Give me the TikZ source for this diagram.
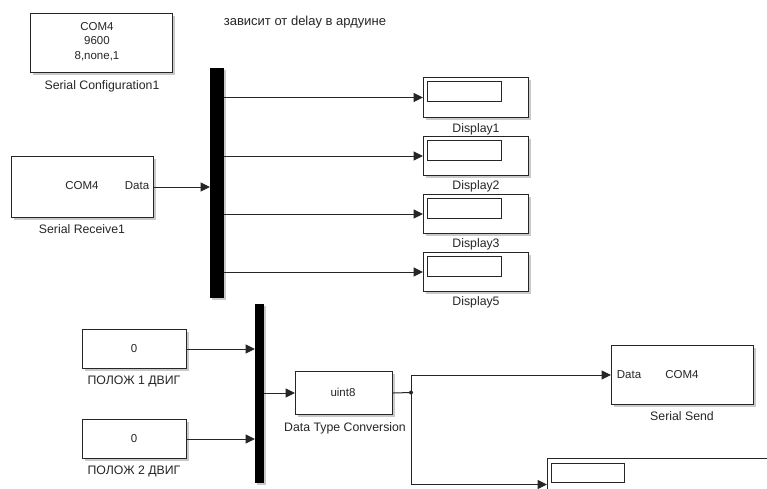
\documentclass[tikz,border=0pt]{standalone}
\usepackage{fontspec}
\setmainfont{Liberation Sans}
\usetikzlibrary{arrows.meta,shadows}
\tikzset{
  blk/.style={draw=black!85, fill=white, line width=1pt, anchor=north west, inner sep=0pt,
    drop shadow={shadow xshift=2pt, shadow yshift=-2pt, fill=black!35, opacity=0.6}},
  inner/.style={draw=black!85, fill=white, line width=1pt, anchor=north west, inner sep=0pt, minimum width=74pt, minimum height=20pt},
  muxbar/.style={fill=black, anchor=north west, inner sep=0pt,
    drop shadow={shadow xshift=2pt, shadow yshift=-2pt, fill=black!35, opacity=0.6}},
  lab/.style={inner sep=0pt, font=\fontsize{12.3}{14}\selectfont, text=black!85},
  txt/.style={inner sep=0pt, font=\fontsize{11.5}{13}\selectfont, text=black!85},
  arr/.style={draw=black!85, line width=1pt, -{Triangle[length=9.5pt,width=9pt]}},
  ln/.style={draw=black!85, line width=1pt},
}
\begin{document}
\begin{tikzpicture}[x=1pt,y=-1pt]
\useasboundingbox (0,0) rectangle (767,488);
\clip (0,0) rectangle (767,488);
\fill[white] (0,0) rectangle (767,488);

% comment text
\node[txt, font=\fontsize{13}{15}\selectfont] (note) at (305,22) {зависит от delay в ардуине};

% Serial Configuration
\node[blk, minimum width=142pt, minimum height=59pt] (cfg) at (30,13) {};
\node[txt] (cfgA) at (97,27) {COM4};
\node[txt] (cfgB) at (97,41) {9600};
\node[txt] (cfgC) at (97,56) {8,none,1};
\node[lab] (cfgL) at (102,86) {Serial Configuration1};

% Serial Receive
\node[blk, minimum width=142pt, minimum height=61pt] (rx) at (11,156) {};
\node[txt] (rxA) at (82,186) {COM4};
\node[txt] (rxB) at (137,186) {Data};
\node[lab] (rxL) at (82,229) {Serial Receive1};

% Mux bar 1
\node[muxbar, minimum width=14pt, minimum height=230pt] (mux1) at (210,68) {};

% Displays
\node[blk, minimum width=105pt, minimum height=40pt] (d1) at (423,77) {};
\node[blk, minimum width=105pt, minimum height=39pt] (d2) at (423,136) {};
\node[blk, minimum width=105pt, minimum height=39pt] (d3) at (423,194) {};
\node[blk, minimum width=105pt, minimum height=39pt] (d5) at (423,252) {};
\node[inner] (d1i) at (427,81) {};
\node[inner] (d2i) at (427,140) {};
\node[inner] (d3i) at (427,198) {};
\node[inner] (d5i) at (427,256) {};
\node[lab] (d1L) at (476,129) {Display1};
\node[lab] (d2L) at (476,186) {Display2};
\node[lab] (d3L) at (476,244) {Display3};
\node[lab] (d5L) at (476,302) {Display5};

\draw[arr] (rx.east) -- (rx.east -| mux1.west);
\draw[arr] (d1.west -| mux1.east) -- (d1.west);
\draw[arr] (d2.west -| mux1.east) -- (d2.west);
\draw[arr] (d3.west -| mux1.east) -- (d3.west);
\draw[arr] (d5.west -| mux1.east) -- (d5.west);

% Constants
\node[blk, minimum width=104pt, minimum height=39pt] (c1) at (82,329) {};
\node[txt] (c1t) at (134,348.5) {0};
\node[lab] (c1L) at (134,381) {ПОЛОЖ 1 ДВИГ};
\node[blk, minimum width=104pt, minimum height=39pt] (c2) at (82,419) {};
\node[txt] (c2t) at (134,438.5) {0};
\node[lab] (c2L) at (134,471) {ПОЛОЖ 2 ДВИГ};

% Mux bar 2
\node[muxbar, minimum width=9pt, minimum height=179pt] (mux2) at (255,304) {};

\draw[arr] (c1.east) -- (c1.east -| mux2.west);
\draw[arr] (c2.east) -- (c2.east -| mux2.west);

% Data Type Conversion
\node[blk, minimum width=97pt, minimum height=43pt] (dtc) at (295,371) {};
\node[txt] (dtct) at (343,392.5) {uint8};
\node[lab] (dtcL) at (345,428) {Data Type Conversion};
\draw[arr] (dtc.west -| mux2.east) -- (dtc.west);

% Serial Send
\node[blk, minimum width=142pt, minimum height=59pt] (send) at (611,345) {};
\node[txt] (sendA) at (629,374.5) {Data};
\node[txt] (sendB) at (682,374.5) {COM4};
\node[lab] (sendL) at (682,416) {Serial Send};

% Bottom display (partly outside)
\node[blk, minimum width=240pt, minimum height=52pt] (d6) at (547,458) {};
\node[inner, minimum width=73pt, minimum height=19pt] (d6i) at (551,463) {};

% Branch
\coordinate (jn) at (411,392.5);
\draw[ln] (dtc.east) -- (jn);
\fill[black!85] (jn) circle (2pt);
\draw[arr] (jn) |- (send.west);
\draw[arr] (jn) |- (d6.west);
\end{tikzpicture}
\end{document}
